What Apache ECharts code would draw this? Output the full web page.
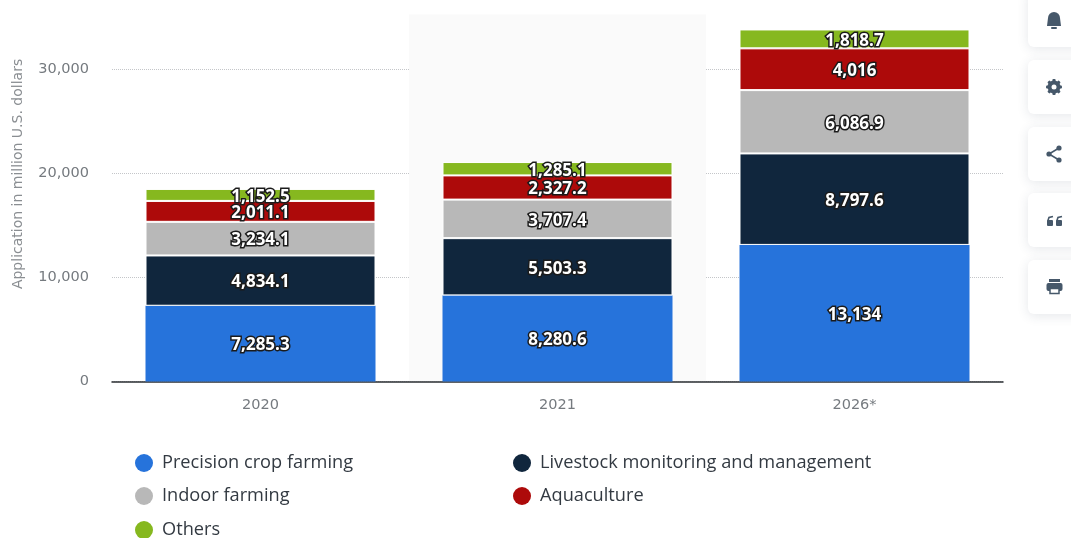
<!DOCTYPE html>
<html>
<head>
<meta charset="utf-8">
<style>html,body{margin:0;padding:0;background:#fff}#chart{width:1071px;height:538px}</style>
<script src="https://cdn.jsdelivr.net/npm/echarts@6/dist/echarts.min.js"></script>
</head>
<body>
<div id="chart"></div>
<script>
const years = ['2020', '2021', '2026*'];
const precisionCrop = [7285.3, 8280.6, 13134];
const livestock = [4834.1, 5503.3, 8797.6];
const indoor = [3234.1, 3707.4, 6086.9];
const aquaculture = [2011.1, 2327.2, 4016];
const others = [1152.5, 1285.1, 1818.7];
const seriesNames = ['Precision crop farming', 'Livestock monitoring and management', 'Indoor farming', 'Aquaculture', 'Others'];
const seriesColors = ['#2673db', '#10263d', '#b8b8b8', '#ad0a0a', '#86b81f'];
const seriesValues = [precisionCrop, livestock, indoor, aquaculture, others];
const legendSlots = [[135, 454], [513, 454], [135, 487], [513, 487], [135, 521]];

const font = '"Open Sans", sans-serif';
const axisFont = '"DejaVu Sans", sans-serif';
const fmt = v => v.toLocaleString('en-US', {maximumFractionDigits: 1});

// Toolbar cards down the right edge
const cardTops = [-10, 60, 127, 193, 260];
const cards = cardTops.map((y, i) => ({
  type: 'rect', silent: true, z: 5,
  shape: {x: 1028, y, width: 70, height: i === 0 ? 57 : 54, r: 6},
  style: {fill: '#fff', shadowBlur: 12, shadowColor: 'rgba(40,60,80,0.12)', shadowOffsetY: 2}
}));
const iconFill = '#46586a';
const gearTeeth = [0, 45, 90, 135].map(deg => ({
  type: 'rect', originX: 1054, originY: 87, rotation: deg * Math.PI / 180,
  shape: {x: 1052.4, y: 79, width: 3.2, height: 16, r: 1}
}));
const icons = [
  {type: 'circle', shape: {cx: 1054, cy: 18, r: 6}},
  {type: 'polygon', shape: {points: [[1048, 18], [1060, 18], [1061, 26], [1047, 26]]}},
  {type: 'rect', shape: {x: 1051, y: 27, width: 6, height: 2, r: 1}},
  ...gearTeeth,
  {type: 'ring', shape: {cx: 1054, cy: 87, r: 6.5, r0: 2.5}},
  {type: 'circle', shape: {cx: 1054, cy: 87, r: 2.5}, style: {fill: '#fff'}},
  {type: 'circle', shape: {cx: 1059, cy: 148, r: 2.6}},
  {type: 'circle', shape: {cx: 1049, cy: 154, r: 2.6}},
  {type: 'circle', shape: {cx: 1059, cy: 160, r: 2.6}},
  {type: 'polyline', shape: {points: [[1059, 148], [1049, 154], [1059, 160]]}, style: {stroke: iconFill, lineWidth: 1.6, fill: 'none'}},
  {type: 'rect', shape: {x: 1047, y: 220, width: 6, height: 6, r: 1}},
  {type: 'rect', shape: {x: 1056, y: 220, width: 6, height: 6, r: 1}},
  {type: 'polyline', shape: {points: [[1053, 216.5], [1049, 217.5], [1047.8, 221]]}, style: {stroke: iconFill, lineWidth: 1.6, fill: 'none'}},
  {type: 'polyline', shape: {points: [[1062, 216.5], [1058, 217.5], [1056.8, 221]]}, style: {stroke: iconFill, lineWidth: 1.6, fill: 'none'}},
  {type: 'rect', shape: {x: 1046.5, y: 283, width: 16, height: 8, r: 2}},
  {type: 'rect', shape: {x: 1049, y: 279, width: 11, height: 3}},
  {type: 'rect', shape: {x: 1050, y: 288.5, width: 9, height: 5}, style: {fill: '#fff', stroke: iconFill, lineWidth: 1.5}}
].map(g => Object.assign({silent: true, z: 6}, g, {style: Object.assign({fill: iconFill}, g.style)}));

const chart = echarts.init(document.getElementById('chart'), null, {renderer: 'canvas'});
chart.setOption({
  animation: false,
  backgroundColor: '#fff',
  grid: {left: 112, right: 68, top: 14.4, bottom: 156.5, outerBoundsMode: 'none'},
  legend: seriesNames.map((name, i) => ({
    data: [name], left: legendSlots[i][0], top: legendSlots[i][1],
    icon: 'circle', itemWidth: 18, itemHeight: 18, itemGap: 0, padding: 0, selectedMode: false,
    itemStyle: {borderWidth: 0},
    textStyle: {fontFamily: font, fontSize: 18.2, color: '#333a42', padding: [2, 0, 0, 4]}
  })),
  xAxis: {
    type: 'category', data: years,
    axisTick: {show: false},
    axisLine: {lineStyle: {color: '#2b2f33', width: 1.5}},
    axisLabel: {fontFamily: axisFont, fontSize: 14.5, color: '#757a7f', margin: 16},
    splitArea: {show: true, areaStyle: {color: ['rgba(0,0,0,0)', '#fafafa', 'rgba(0,0,0,0)']}}
  },
  yAxis: {
    type: 'value', min: 0, max: 35300, interval: 10000,
    name: 'Application in million U.S. dollars',
    nameLocation: 'middle', nameGap: 87,
    nameTextStyle: {fontFamily: axisFont, fontSize: 14, color: '#8a8e92', padding: [0, 0, 0, 48]},
    axisLine: {show: false}, axisTick: {show: false},
    axisLabel: {fontFamily: axisFont, fontSize: 14.5, color: '#757a7f', margin: 23, showMaxLabel: false,
      formatter: v => v.toLocaleString('en-US')},
    splitLine: {showMaxLine: false, lineStyle: {type: 'dotted', color: '#c4c6c9', width: 1}}
  },
  series: seriesNames.map((name, i) => ({
    name, type: 'bar', stack: 'total', barWidth: 230, data: seriesValues[i],
    // The lowest segment sits directly on the axis line, so it carries no outline
    itemStyle: {color: seriesColors[i], borderColor: '#fff', borderWidth: i === 0 ? 0 : 1},
    label: {
      show: true, position: 'inside', offset: [0, 2],
      formatter: p => fmt(p.value),
      fontFamily: font, fontSize: 17, fontWeight: 'bold', color: '#fff',
      textBorderColor: '#1b1b1b', textBorderWidth: 3
    }
  })),
  graphic: cards.concat(icons)
});
</script>
</body>
</html>
